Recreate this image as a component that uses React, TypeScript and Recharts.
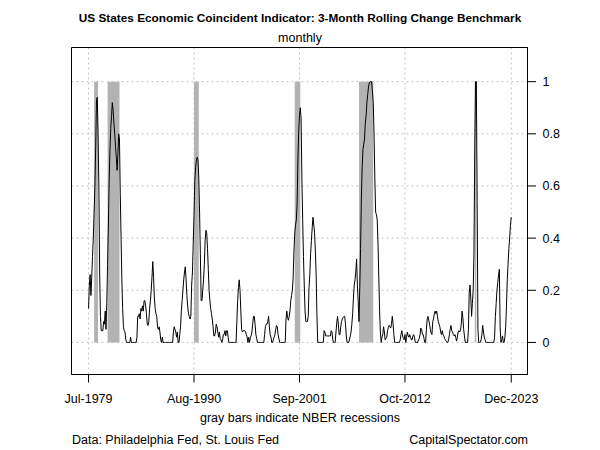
import { LineChart, Line, XAxis, YAxis, CartesianGrid, ReferenceArea } from 'recharts'

// monthly readings, first value is Jul-1979, last is Dec-2023 (12 per row, Jul..Jun)
const changeValues = [
  0.13, 0.22, 0.26, 0.18, 0.25, 0.33, 0.4, 0.5, 0.6, 0.75, 0.93, 0.94,
  0.8, 0.6, 0.27, 0.1, 0.045, 0.045, 0.045, 0.08, 0.07, 0.12, 0.05, 0.15,
  0.3, 0.45, 0.62, 0.74, 0.82, 0.87, 0.92, 0.89, 0.84, 0.8, 0.75, 0.71,
  0.66, 0.72, 0.8, 0.78, 0.57, 0.4, 0.24, 0.13, 0.06, 0.045, 0.04, 0.01,
  0, 0, 0, 0, 0, 0.02, 0, 0, 0, 0, 0, 0,
  0, 0.02, 0.1, 0.1, 0.11, 0.09, 0.13, 0.12, 0.14, 0.12, 0.16, 0.16,
  0.14, 0.11, 0.07, 0.065, 0.08, 0.13, 0.16, 0.2, 0.25, 0.31, 0.25, 0.17,
  0.13, 0.11, 0.1, 0.06, 0.05, 0.06, 0.04, 0.01, 0, 0.02, 0, 0,
  0, 0, 0, 0, 0, 0, 0, 0, 0, 0, 0, 0.04,
  0.06, 0.05, 0.04, 0.02, 0.04, 0, 0, 0.03, 0.06, 0.12, 0.16, 0.2,
  0.24, 0.27, 0.29, 0.24, 0.18, 0.14, 0.11, 0.1, 0.09, 0.1, 0.22, 0.27,
  0.38, 0.49, 0.62, 0.67, 0.7, 0.71, 0.7, 0.63, 0.5, 0.34, 0.16, 0.16,
  0.2, 0.24, 0.3, 0.39, 0.43, 0.42, 0.36, 0.28, 0.2, 0.16, 0.13, 0.11,
  0.09, 0.06, 0.025, 0.025, 0.04, 0.07, 0.06, 0.04, 0.02, 0.04, 0.015, 0.01,
  0, 0.01, 0.03, 0.03, 0.045, 0.025, 0.045, 0.045, 0.02, 0, 0, 0,
  0, 0, 0, 0, 0, 0, 0, 0.08, 0.16, 0.21, 0.24, 0.2,
  0.12, 0.05, 0.04, 0.045, 0.045, 0.045, 0.04, 0.03, 0.02, 0, 0.02, 0,
  0.02, 0.025, 0.04, 0.07, 0.1, 0.1, 0.07, 0.03, 0.015, 0, 0, 0,
  0, 0, 0, 0, 0, 0, 0.03, 0.06, 0.07, 0.07, 0.08, 0.1,
  0.06, 0.03, 0.02, 0, 0, 0.01, 0.02, 0.03, 0.05, 0.065, 0.06, 0.03,
  0.015, 0, 0, 0, 0, 0, 0, 0, 0, 0.09, 0.12, 0.095,
  0.085, 0.1, 0.12, 0.16, 0.18, 0.2, 0.25, 0.35, 0.42, 0.45, 0.47, 0.53,
  0.7, 0.81, 0.87, 0.9, 0.86, 0.63, 0.47, 0.33, 0.22, 0.12, 0.08, 0.08,
  0.08, 0.1, 0.21, 0.26, 0.34, 0.39, 0.44, 0.48, 0.45, 0.42, 0.35, 0.26,
  0.1, 0, 0, 0, 0, 0, 0, 0, 0, 0.045, 0.04, 0.025,
  0.025, 0.025, 0.025, 0.025, 0.025, 0.025, 0.045, 0.04, 0.01, 0, 0, 0,
  0.04, 0.075, 0.1, 0.07, 0.03, 0.03, 0.06, 0.08, 0.09, 0.095, 0.1, 0.1,
  0.07, 0.025, 0, 0, 0, 0.01, 0.025, 0.04, 0.07, 0.11, 0.17, 0.22,
  0.24, 0.27, 0.32, 0.22, 0.16, 0.08, 0.21, 0.36, 0.55, 0.67, 0.74, 0.76,
  0.78, 0.84, 0.87, 0.92, 0.95, 0.98, 0.995, 1, 1, 1, 0.96, 0.92,
  0.8, 0.63, 0.5, 0.49, 0.47, 0.38, 0.25, 0.12, 0.04, 0, 0.02, 0.03,
  0.06, 0.04, 0.01, 0.015, 0.02, 0.045, 0.057, 0.065, 0.06, 0.055, 0.07, 0.1,
  0.07, 0.03, 0, 0, 0, 0, 0, 0, 0, 0.01, 0.03, 0.045,
  0.025, 0.015, 0.01, 0.03, 0, 0.02, 0.04, 0.025, 0.02, 0.03, 0.02, 0.01,
  0.01, 0.025, 0.03, 0.02, 0, 0, 0, 0, 0.01, 0.015, 0.03, 0.055,
  0.05, 0.03, 0.03, 0.015, 0, 0, 0.05, 0.09, 0.1, 0.085, 0.07, 0.05,
  0.035, 0.03, 0.08, 0.09, 0.11, 0.12, 0.11, 0.12, 0.1, 0.08, 0.07, 0.06,
  0.04, 0.03, 0.045, 0.03, 0.025, 0.015, 0.01, 0.005, 0, 0, 0.01, 0.03,
  0.05, 0.065, 0.045, 0.04, 0.03, 0.025, 0.03, 0.02, 0.005, 0.02, 0.04, 0.045,
  0.04, 0.045, 0.07, 0.12, 0.095, 0.05, 0.025, 0, 0, 0, 0, 0.05,
  0.19, 0.22, 0.17, 0.1, 0.15, 0.2, 0.34, 0.75, 1, 1, 0.54, 0.05,
  0, 0, 0, 0.01, 0.03, 0.065, 0.04, 0.02, 0.01, 0, 0, 0,
  0, 0, 0, 0, 0, 0, 0, 0, 0.02, 0.1, 0.15, 0.2,
  0.23, 0.26, 0.28, 0.06, 0, 0.01, 0.025, 0, 0, 0.02, 0.06, 0.14,
  0.24, 0.3, 0.36, 0.4, 0.45, 0.48,
]

// month index (0 = Jul-1979) of each x label
const xTickIndex = [0, 133, 266, 399, 533]
const xTickLabels = ['Jul-1979', 'Aug-1990', 'Sep-2001', 'Oct-2012', 'Dec-2023']
const yTicks = [0, 0.2, 0.4, 0.6, 0.8, 1]

// NBER recessions as [start, end] month index
const recessions = [
  [7, 12],
  [24, 39],
  [133, 139],
  [260, 267],
  [341, 359],
  [487, 489],
]

const font = 'Arial, "Liberation Sans", sans-serif'
const xDomain = [-21.5, 553.5]
const yDomain = [-0.123, 1.131]

export default function App() {
  const data = changeValues.map((v, i) => ({ i, v }))

  return (
    <div
      style={{
        position: 'absolute',
        left: 0,
        top: 0,
        width: 600,
        height: 450,
        background: '#fff',
        fontFamily: font,
        color: '#000',
      }}
    >
      <div style={{ position: 'absolute', top: 10, width: 600, textAlign: 'center', fontSize: 11.8, fontWeight: 'bold', lineHeight: '16px' }}>
        US States Economic Coincident Indicator: 3-Month Rolling Change Benchmark
      </div>
      <div style={{ position: 'absolute', top: 30, width: 600, textAlign: 'center', fontSize: 12.5, lineHeight: '16px' }}>
        monthly
      </div>

      <LineChart
        width={600}
        height={450}
        data={data}
        margin={{ top: 47.5, right: 12.5, bottom: 45.5, left: 71.5 }}
      >
        <CartesianGrid stroke="#c4c4c4" strokeDasharray="2 3" />
        {recessions.map(([a, b]) => (
          <ReferenceArea key={a} x1={a} x2={b} y1={0} y2={1} fill="#b3b3b3" fillOpacity={1} stroke="none" />
        ))}
        <XAxis
          dataKey="i"
          type="number"
          domain={xDomain}
          ticks={xTickIndex}
          tickFormatter={(t) => xTickLabels[xTickIndex.indexOf(t)] ?? ''}
          allowDataOverflow
          height={30}
          tickSize={8}
          tickMargin={12}
          stroke="#000"
          tick={{ fill: '#000', fontSize: 12.5, fontFamily: font }}
        />
        <YAxis
          orientation="right"
          type="number"
          domain={yDomain}
          ticks={yTicks}
          allowDataOverflow
          width={60}
          tickSize={8.5}
          tickMargin={6.5}
          stroke="#000"
          tick={{ fill: '#000', fontSize: 12.5, fontFamily: font }}
        />
        <ReferenceArea
          x1={xDomain[0]}
          x2={xDomain[1]}
          y1={yDomain[0]}
          y2={yDomain[1]}
          fill="none"
          stroke="#000"
          strokeWidth={1}
        />
        <Line
          type="linear"
          dataKey="v"
          stroke="#000"
          strokeWidth={1}
          dot={false}
          activeDot={false}
          isAnimationActive={false}
        />
      </LineChart>

      <div style={{ position: 'absolute', top: 410, width: 600, textAlign: 'center', fontSize: 12.5, lineHeight: '16px' }}>
        gray bars indicate NBER recessions
      </div>
      <div style={{ position: 'absolute', top: 432, left: 72, fontSize: 12.5, lineHeight: '16px' }}>
        Data: Philadelphia Fed, St. Louis Fed
      </div>
      <div style={{ position: 'absolute', top: 432, right: 72, fontSize: 12.5, lineHeight: '16px' }}>
        CapitalSpectator.com
      </div>
    </div>
  )
}
